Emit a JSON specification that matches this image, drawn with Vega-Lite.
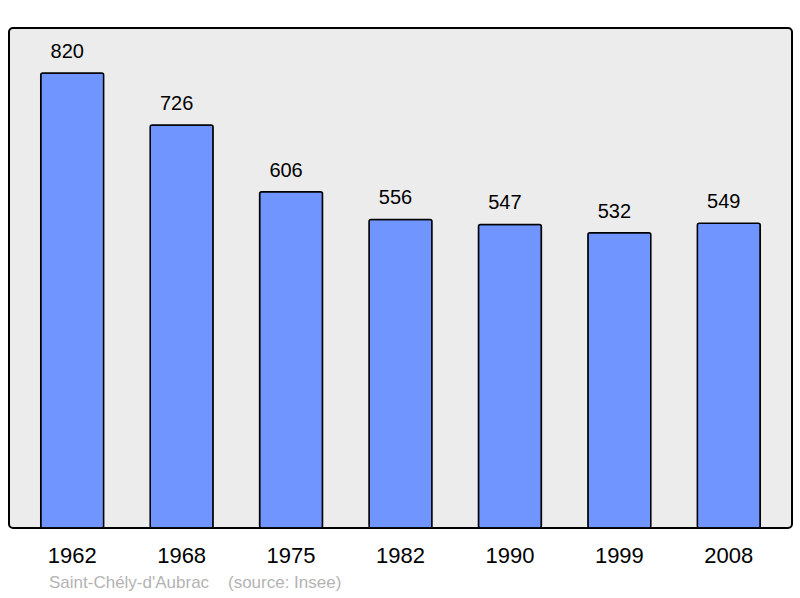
{
  "$schema": "https://vega.github.io/schema/vega-lite/v6.json",
  "width": 783,
  "height": 500,
  "autosize": {"type": "none"},
  "padding": {"left": 9, "top": 28, "right": 8, "bottom": 70},
  "background": "white",
  "config": {
    "view": {"fill": "#ececec", "stroke": "black", "strokeWidth": 2, "cornerRadius": 4},
    "font": "Liberation Sans"
  },
  "title": {
    "text": "Saint-Chély-d'Aubrac\u00a0\u00a0\u00a0\u00a0(source: Insee)",
    "orient": "bottom",
    "anchor": "start",
    "frame": "group",
    "dx": 40,
    "offset": 9,
    "fontSize": 17,
    "fontWeight": "normal",
    "color": "#b3b3b3",
    "font": "Liberation Sans"
  },
  "data": {
    "values": [
      {"year": "1962", "pop": 820},
      {"year": "1968", "pop": 726},
      {"year": "1975", "pop": 606},
      {"year": "1982", "pop": 556},
      {"year": "1990", "pop": 547},
      {"year": "1999", "pop": 532},
      {"year": "2008", "pop": 549}
    ]
  },
  "encoding": {
    "x": {
      "field": "year",
      "type": "nominal",
      "sort": null,
      "scale": {"paddingInner": 0.425, "paddingOuter": 0.29},
      "axis": {
        "title": null,
        "domain": false,
        "ticks": false,
        "labelAngle": 0,
        "labelFontSize": 22,
        "labelColor": "black",
        "labelPadding": 17,
        "labelFont": "Liberation Sans"
      }
    },
    "y": {
      "field": "pop",
      "type": "quantitative",
      "scale": {"domain": [0, 901], "nice": false},
      "axis": null
    }
  },
  "layer": [
    {
      "mark": {"type": "bar", "fill": "#7195ff", "stroke": "black", "strokeWidth": 1.5, "cornerRadius": 2}
    },
    {
      "mark": {"type": "text", "baseline": "alphabetic", "dy": -15, "dx": -5, "fontSize": 20, "color": "black", "font": "Liberation Sans"},
      "encoding": {"text": {"field": "pop", "type": "quantitative"}}
    }
  ]
}
